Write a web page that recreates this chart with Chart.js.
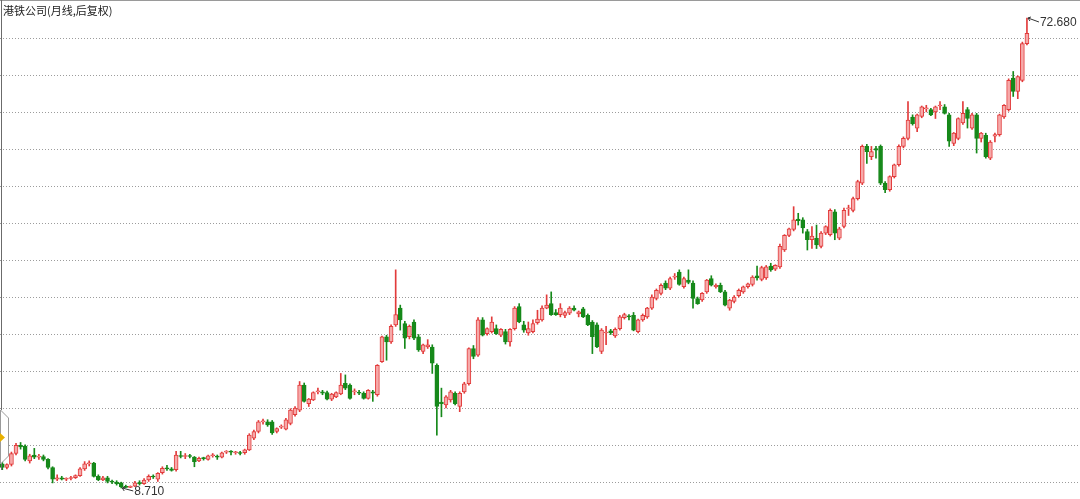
<!DOCTYPE html>
<html>
<head>
<meta charset="utf-8">
<script src="https://cdn.jsdelivr.net/npm/chart.js@4.4.1/dist/chart.umd.min.js"></script>
<style>
html, body { margin: 0; padding: 0; background: #fff; }
#wrap { position: relative; width: 1080px; height: 499px; overflow: hidden; }
#title { position: absolute; left: 3px; top: 2px; font: 11px "Noto Sans CJK SC", sans-serif; color: #222; }
</style>
</head>
<body>
<div id="wrap">
  <canvas id="myChart"></canvas>
  <div id="title">港铁公司(月线,后复权)</div>
</div>
<script>
// monthly candles, backward adjusted
var opens = [
  12.0,11.5,11.9,13.4,14.5,14.4,12.4,13.2,12.9,13.0,12.6,11.5,9.9,10.1,9.9,10.0,10.1,10.4,11.3,12.0,
  12.1,10.3,9.8,10.1,9.6,9.5,9.4,8.85,8.8,8.95,9.4,9.3,9.8,10.3,9.9,10.8,11.4,11.3,
  11.2,13.1,13.0,13.1,12.9,12.4,12.75,12.6,13.1,13.0,12.9,13.6,13.7,13.5,13.5,13.5,13.9,15.5,16.4,17.7,
  17.7,17.7,16.4,17.0,16.7,17.5,18.7,19.3,22.7,20.2,20.7,21.8,21.8,21.7,20.8,21.1,21.5,22.95,22.7,21.8,21.7,21.6,
  20.9,21.8,21.4,25.9,29.3,28.6,30.9,33.2,31.1,29.3,31.3,29.3,27.3,27.9,27.9,25.4,20.4,20.0,20.7,21.6,
  19.8,21.8,22.9,27.7,26.8,31.6,29.7,30.0,30.4,29.5,30.0,28.6,30.4,33.4,30.9,29.8,30.0,31.2,31.6,33.2,33.8,32.6,
  32.3,32.2,32.5,33.2,32.4,33.1,32.2,31.3,30.9,27.3,29.8,30.1,29.4,30.4,31.9,32.1,32.2,30.0,31.6,32.0,
  33.2,34.5,35.2,36.6,35.9,37.4,38.1,36.1,37.0,36.6,34.5,34.3,35.4,37.2,36.1,36.3,35.4,33.2,34.1,34.9,35.4,36.1,
  36.4,37.6,37.1,37.3,38.9,38.5,38.8,41.1,43.1,43.9,45.3,45.2,43.6,42.5,42.7,41.6,43.4,43.2,46.3,42.7,
  44.3,46.7,46.5,48.1,50.2,55.2,53.8,54.9,
  55.2,50.2,49.3,51.1,52.7,55.2,56.3,59.2,57.7,59.3,60.3,60.2,59.9,60.7,60.6,59.5,55.6,56.3,58.4,60.2,
  57.7,59.5,56.3,56.7,53.6,56.6,56.8,59.2,60.2,64.5,62.7,64.2,69.2
];
var highs = [
  12.3,12.0,13.6,14.8,14.9,14.6,13.3,14.1,13.3,13.2,12.7,11.6,10.5,10.3,10.1,10.3,10.5,11.5,12.3,12.4,
  12.2,10.5,10.3,10.3,9.8,9.7,9.5,9.1,9.0,9.6,9.7,10.0,10.5,10.5,10.8,11.6,11.8,11.5,
  13.7,13.7,13.4,13.3,13.0,12.9,12.9,13.2,13.4,13.2,13.6,13.8,13.8,13.7,13.7,14.0,16.1,16.6,17.9,18.1,
  18.0,17.9,16.9,17.3,18.2,19.5,19.8,23.2,23.0,20.9,21.8,22.3,22.0,21.9,21.6,21.8,24.3,24.1,22.9,22.2,22.0,21.8,
  22.1,22.0,25.5,29.4,29.5,30.9,38.4,33.6,31.4,30.9,31.6,29.6,28.3,28.9,28.2,25.6,22.3,21.3,22.0,21.8,
  21.8,23.1,27.8,28.1,31.9,31.9,30.5,32.0,30.9,30.4,30.3,30.4,33.4,33.8,31.4,31.3,31.6,32.9,33.5,35.0,35.4,33.0,
  33.8,32.8,33.4,33.5,32.8,33.3,32.4,31.5,31.2,30.4,30.7,30.3,30.5,32.2,32.5,32.3,32.6,31.7,32.4,33.3,
  35.0,35.8,36.5,36.9,37.4,37.9,38.4,37.4,38.4,36.9,34.7,35.3,37.1,37.6,36.5,36.6,35.6,34.4,34.9,35.8,36.2,36.6,
  37.6,38.9,38.9,39.0,39.3,39.1,41.9,43.2,44.1,47.0,46.1,45.5,43.9,44.3,44.5,43.6,44.4,46.7,46.6,44.2,
  46.8,47.2,48.3,50.6,55.4,55.5,55.2,55.2,
  55.4,50.4,51.2,52.8,55.4,56.5,61.3,59.5,59.6,60.7,60.8,60.4,60.7,61.3,60.9,59.7,57.1,59.1,61.3,60.5,
  59.7,59.7,57.1,57.0,56.0,57.0,59.6,60.9,64.4,65.4,64.8,69.4,72.68
];
var lows = [
  11.2,11.3,11.7,13.2,14.0,12.4,12.1,12.7,12.6,12.4,11.3,9.4,9.7,9.8,9.7,9.8,10.0,10.3,11.1,11.7,
  10.2,9.7,9.7,9.4,9.3,9.1,8.71,8.76,8.75,8.9,9.1,9.2,9.6,10.0,9.6,10.6,11.1,11.0,
  11.0,12.8,12.7,12.8,11.6,12.3,12.5,12.5,12.9,12.6,12.8,13.4,13.2,13.3,13.2,13.3,13.8,15.3,16.2,17.4,
  17.1,16.0,16.2,16.8,16.6,17.3,18.5,19.1,20.4,19.8,20.6,21.5,21.4,20.7,20.6,21.0,21.4,22.1,20.8,21.4,21.4,20.8,
  20.8,20.5,21.2,25.8,26.1,28.4,30.7,30.2,27.7,29.0,28.9,27.3,27.0,27.7,24.3,15.9,18.4,19.6,20.4,20.0,
  19.1,21.6,22.7,26.3,26.6,29.4,29.5,29.8,29.6,29.3,28.3,28.0,30.2,31.2,29.9,29.5,29.8,31.0,31.4,33.1,32.2,32.2,
  32.0,31.9,32.3,32.8,32.0,31.9,30.8,27.0,27.8,27.0,28.2,29.6,29.2,30.2,31.7,31.6,30.1,29.8,31.4,31.8,
  33.0,34.3,35.0,35.7,35.7,37.1,36.3,35.9,36.5,33.2,33.7,34.1,35.2,36.2,35.9,35.3,33.5,32.9,33.9,34.7,35.2,35.9,
  36.2,37.0,36.9,37.1,38.2,38.3,38.6,40.9,42.9,43.7,44.5,43.4,41.1,41.3,41.3,41.4,43.2,43.0,42.5,42.5,
  44.1,45.8,46.3,47.9,50.0,52.9,53.4,53.6,
  50.0,48.9,49.1,50.9,52.5,55.0,56.1,58.1,57.2,59.1,59.9,59.4,59.0,60.2,59.6,55.2,55.3,56.1,58.2,57.7,
  57.5,54.3,55.8,53.6,53.4,55.8,56.6,59.0,60.0,62.0,61.7,64.0,69.0
];
var closes = [
  11.5,11.9,13.4,14.5,14.3,12.6,13.1,12.9,13.0,12.6,11.5,9.9,10.1,9.9,10.0,10.1,10.4,11.3,12.0,12.1,
  10.3,9.8,10.1,9.6,9.5,9.3,8.85,8.8,8.95,9.4,9.3,9.8,10.3,10.2,10.7,11.4,11.3,11.1,
  13.2,13.0,13.1,13.0,12.3,12.75,12.7,13.1,13.2,12.9,13.5,13.7,13.6,13.5,13.4,13.9,15.9,16.4,17.7,17.8,
  17.3,16.2,16.8,17.1,18.0,19.3,19.6,22.7,20.5,20.8,21.7,21.9,21.6,20.8,21.5,21.7,22.7,22.3,20.9,21.9,21.6,20.9,
  22.0,21.6,25.4,29.3,28.6,30.7,32.3,31.6,29.1,30.7,29.1,27.5,28.2,28.2,25.7,19.8,20.2,21.1,21.8,20.2,
  21.6,22.9,27.7,26.6,31.6,29.5,30.4,31.3,29.7,30.3,28.6,30.3,33.2,31.3,30.2,30.4,31.1,31.7,33.2,33.6,32.3,32.3,
  33.2,32.6,33.2,32.9,32.7,32.0,30.9,29.3,27.9,30.2,29.9,29.8,30.3,32.0,32.3,32.0,30.2,31.6,32.2,33.2,
  34.7,35.6,36.3,35.9,37.2,37.5,36.4,37.2,36.7,34.5,33.8,35.2,37.0,36.3,36.3,35.4,33.6,34.3,34.7,35.6,36.1,36.5,
  37.4,37.3,38.7,38.8,38.4,39.0,41.6,43.1,44.0,45.2,45.1,44.1,42.5,43.0,41.8,43.4,44.3,46.5,43.4,44.0,
  46.5,46.8,48.1,50.4,55.2,54.5,54.5,54.7,
  50.2,49.3,51.1,52.7,55.2,56.3,58.8,58.3,59.5,60.6,60.4,59.5,60.6,60.8,59.7,55.9,57.0,59.0,59.7,59.0,
  59.5,56.3,57.0,53.8,55.8,56.8,59.5,60.8,64.2,62.7,64.7,69.2,70.6
];

// value range of the plot and the dotted guide lines
var Y_MIN = 7.21, Y_MAX = 75.13;
var GRID_TOP = 69.89, GRID_STEP = 5.036, GRID_COUNT = 13;
var RIGHT_ROOM = 11.1; // empty slots at the right for the max label

var upLine = '#e23b3b', upFill = '#f6a9a9', downColor = '#16891a';

var bodyFill = [], lineColor = [];
for (var i = 0; i < opens.length; i++) {
  if (closes[i] >= opens[i]) { bodyFill.push(upFill); lineColor.push(upLine); }
  else { bodyFill.push(downColor); lineColor.push(downColor); }
}

var bodies = opens.map(function (o, i) { return { x: i, y: [o, closes[i]] }; });
var wicks = lows.map(function (l, i) { return { x: i, y: [l, highs[i]] }; });

// max / min marks, border and the little side handle
var marks = {
  id: 'marks',
  afterDraw: function (chart) {
    var ctx = chart.ctx, xs = chart.scales.x, ys = chart.scales.y;
    var hi = 0, lo = 0;
    for (var i = 1; i < highs.length; i++) {
      if (highs[i] > highs[hi]) hi = i;
      if (lows[i] < lows[lo]) lo = i;
    }
    ctx.save();
    ctx.strokeStyle = '#333';
    ctx.fillStyle = '#333';
    ctx.lineWidth = 1;
    ctx.font = '12px "Liberation Sans", Arial, sans-serif';
    ctx.textBaseline = 'middle';

    function tag(idx, val, dy) {
      var px = xs.getPixelForValue(idx), py = ys.getPixelForValue(val);
      ctx.beginPath();
      ctx.moveTo(px + 1, py);
      ctx.lineTo(px + 12, py + dy);
      ctx.moveTo(px + 1, py);
      ctx.lineTo(px + 4, py - 1);
      ctx.moveTo(px + 1, py);
      ctx.lineTo(px + 3, py + 3);
      ctx.stroke();
      ctx.fillText(val.toFixed(3), px + 13, py + dy + 1);
    }
    tag(hi, highs[hi], 4);
    tag(lo, lows[lo], 3);

    // frame
    ctx.strokeStyle = '#9a9a9a';
    ctx.beginPath();
    ctx.moveTo(0, 0.5); ctx.lineTo(chart.width, 0.5);
    ctx.stroke();
    ctx.strokeStyle = '#6b6b6b';
    ctx.beginPath();
    ctx.moveTo(1.5, 0); ctx.lineTo(1.5, 410);
    ctx.moveTo(1.5, 464); ctx.lineTo(1.5, 470);
    ctx.stroke();

    // side handle
    ctx.fillStyle = '#fff';
    ctx.strokeStyle = '#9a9a9a';
    ctx.beginPath();
    ctx.moveTo(0.5, 410);
    ctx.lineTo(8.5, 418);
    ctx.lineTo(8.5, 456);
    ctx.lineTo(0.5, 464);
    ctx.closePath();
    ctx.fill();
    ctx.stroke();
    ctx.fillStyle = '#e8b000';
    ctx.beginPath();
    ctx.moveTo(0, 433);
    ctx.lineTo(5, 437.5);
    ctx.lineTo(0, 442);
    ctx.closePath();
    ctx.fill();
    ctx.restore();
  }
};

myChart = new Chart(document.getElementById('myChart'), {
  type: 'bar',
  data: {
    datasets: [{
      data: bodies,
      backgroundColor: bodyFill,
      borderColor: lineColor,
      borderWidth: 1,
      borderSkipped: false,
      barThickness: 4,
      minBarLength: 1,
      grouped: false
    }, {
      data: wicks,
      backgroundColor: lineColor,
      borderWidth: 0,
      barThickness: 1,
      grouped: false
    }]
  },
  options: {
    responsive: true,
    maintainAspectRatio: false,
    animation: false,
    layout: { padding: 0 },
    plugins: { legend: { display: false }, tooltip: { enabled: false }, title: { display: false } },
    scales: {
      x: {
        type: 'linear',
        display: false,
        offset: false,
        grid: { offset: false },
        min: -0.5,
        max: opens.length - 0.5 + RIGHT_ROOM
      },
      y: {
        min: Y_MIN,
        max: Y_MAX,
        ticks: { display: false },
        border: { display: false, dash: [1, 2] },
        grid: { color: '#9c9c9c', drawTicks: false, lineWidth: 1 },
        afterBuildTicks: function (s) {
          var t = [];
          for (var k = 0; k < GRID_COUNT; k++) t.push({ value: GRID_TOP - k * GRID_STEP });
          s.ticks = t;
        }
      }
    }
  },
  plugins: [marks]
});
</script>
</body>
</html>
